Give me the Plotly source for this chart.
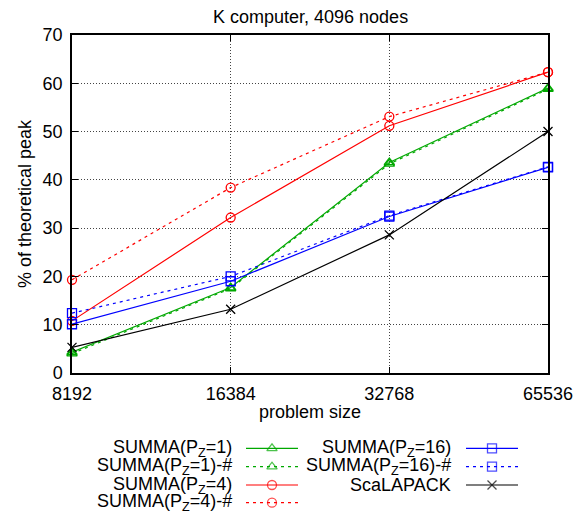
import math
import plotly.graph_objects as go

W, H = 586, 513

sizes = [8192, 16384, 32768, 65536]
size_labels = ["8192", "16384", "32768", "65536"]

summa_pz1 = [4.3, 17.7, 43.6, 59.0]
summa_pz1_hash = [4.0, 17.5, 43.3, 58.8]
summa_pz4 = [10.8, 32.2, 51.2, 62.3]
summa_pz4_hash = [19.3, 38.4, 53.1, 62.3]
summa_pz16 = [10.1, 19.0, 32.4, 42.6]
summa_pz16_hash = [12.4, 20.0, 32.6, 42.7]
scalapack = [5.3, 13.2, 28.6, 50.0]

y_ticks = [0, 10, 20, 30, 40, 50, 60, 70]

GREEN = "#00a800"
RED = "#ff0000"
BLUE = "#0000ff"
BLACK = "#000000"
FONT = "Liberation Sans, Arial, sans-serif"
FS = 18
LW = 1.2
DASH = "3px,4px"

series = [
    ("SUMMA(P<sub>Z</sub>=1)", summa_pz1, GREEN, "solid", "triangle-up-open"),
    ("SUMMA(P<sub>Z</sub>=1)-#", summa_pz1_hash, GREEN, DASH, "triangle-up-open"),
    ("SUMMA(P<sub>Z</sub>=4)", summa_pz4, RED, "solid", "circle-open"),
    ("SUMMA(P<sub>Z</sub>=4)-#", summa_pz4_hash, RED, DASH, "circle-open"),
    ("SUMMA(P<sub>Z</sub>=16)", summa_pz16, BLUE, "solid", "square-open"),
    ("SUMMA(P<sub>Z</sub>=16)-#", summa_pz16_hash, BLUE, DASH, "square-open"),
    ("ScaLAPACK", scalapack, BLACK, "solid", "x-thin-open"),
]

# plot area in pixels
PL, PR, PT, PB = 72, 548, 35, 373

fig = go.Figure()
for name, vals, col, dash, sym in series:
    fig.add_trace(go.Scatter(
        x=sizes, y=vals, mode="lines+markers", name=name,
        line=dict(color=col, width=LW, dash=dash),
        marker=dict(symbol=sym, size=9, color=col, line=dict(color=col, width=1.3)),
        cliponaxis=False, showlegend=False, xaxis="x", yaxis="y",
    ))

# custom legend (text on left, sample on right), drawn on a pixel-space overlay axis
leg_rows = [448.3, 466.7, 485.0, 502.7]
leg_cols = [(234, 246, 298), (453, 466, 518)]
placement = [(0, 0), (0, 1), (0, 2), (0, 3), (1, 0), (1, 1), (1, 2)]
annotations = []
for (name, vals, col, dash, sym), (c, r) in zip(series, placement):
    tx, x0, x1 = leg_cols[c]
    yy = leg_rows[r]
    fig.add_trace(go.Scatter(
        x=[x0, (x0 + x1) / 2, x1], y=[yy, yy, yy], mode="lines+markers",
        line=dict(color=col, width=LW, dash=dash),
        marker=dict(symbol=sym, size=[0, 9, 0], color=col, line=dict(color=col, width=1.3)),
        showlegend=False, hoverinfo="skip", xaxis="x2", yaxis="y2", cliponaxis=False,
    ))
    annotations.append(dict(
        x=tx, y=yy, xref="x2", yref="y2", text=name, showarrow=False,
        xanchor="right", yanchor="middle", font=dict(family=FONT, size=FS, color="black"),
    ))

annotations.append(dict(
    x=(PL + PR) / 2, y=17, xref="x2", yref="y2", text="K computer, 4096 nodes",
    showarrow=False, xanchor="center", yanchor="middle",
    font=dict(family=FONT, size=FS, color="black")))
annotations.append(dict(
    x=(PL + PR) / 2, y=412, xref="x2", yref="y2", text="problem size",
    showarrow=False, xanchor="center", yanchor="middle",
    font=dict(family=FONT, size=FS, color="black")))
annotations.append(dict(
    x=25, y=(PT + PB) / 2, xref="x2", yref="y2", text="% of theoretical peak",
    showarrow=False, xanchor="center", yanchor="middle", textangle=-90,
    font=dict(family=FONT, size=FS, color="black")))

EPS = 1e-7
fig.update_layout(
    width=W, height=H, autosize=False,
    margin=dict(l=0, r=0, t=0, b=0, pad=0, autoexpand=False),
    paper_bgcolor="white", plot_bgcolor="rgba(0,0,0,0)",
    font=dict(family=FONT, size=FS, color="black"),
    xaxis=dict(
        type="log", range=[math.log10(sizes[0]) - EPS, math.log10(sizes[-1]) + EPS],
        domain=[PL / W, PR / W], anchor="y",
        tickvals=sizes, ticktext=size_labels,
        showgrid=True, gridcolor="#444444", gridwidth=1, griddash="1px,2px",
        showline=True, linecolor="black", linewidth=1.5, mirror="ticks",
        ticks="inside", ticklen=6, tickcolor="black", tickwidth=1,
        zeroline=False, ticklabelstandoff=4, automargin=False,
    ),
    yaxis=dict(
        range=[0, 70], domain=[1 - PB / H, 1 - PT / H], anchor="x",
        tickvals=y_ticks,
        showgrid=True, gridcolor="#444444", gridwidth=1, griddash="1px,2px",
        showline=True, linecolor="black", linewidth=1.5, mirror="ticks",
        ticks="inside", ticklen=6, tickcolor="black", tickwidth=1,
        zeroline=False, ticklabelstandoff=4, automargin=False,
    ),
    xaxis2=dict(range=[0, W], domain=[0, 1], anchor="y2", visible=False, fixedrange=True, automargin=False),
    yaxis2=dict(range=[H, 0], domain=[0, 1], anchor="x2", visible=False, fixedrange=True, automargin=False),
    annotations=annotations,
)

fig.write_html(
    "out.html",
    config={"responsive": False, "displayModeBar": False},
    post_script="document.body.style.margin='0';document.body.style.padding='0';document.body.style.overflow='hidden';",
)
